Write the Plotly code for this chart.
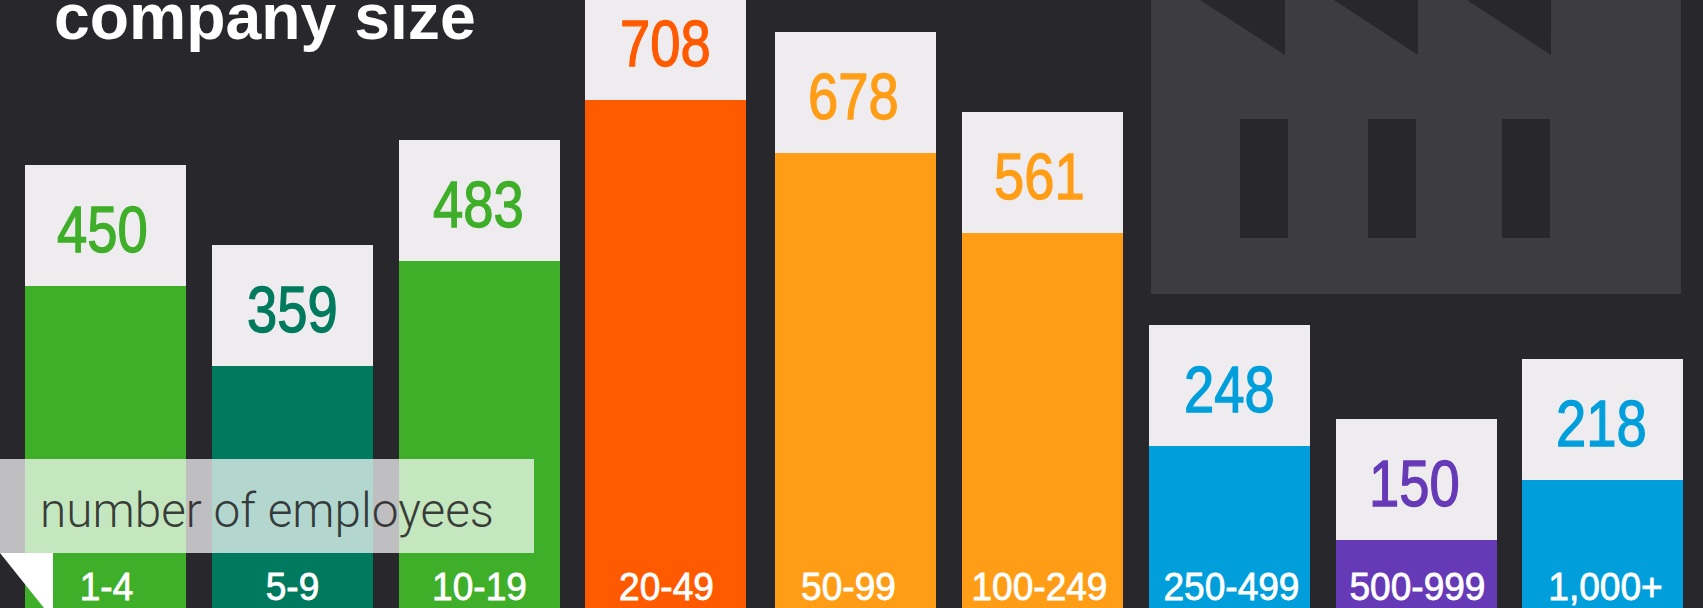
import plotly.graph_objects as go

categories = ["1-4", "5-9", "10-19", "20-49", "50-99", "100-249", "250-499", "500-999", "1,000+"]
value_labels = [450, 359, 483, 708, 678, 561, 248, 150, 218]
# drawn bar heights (the original is not strictly proportional to its labels)
bar_heights = [322, 242, 347, 508, 455, 375, 162, 68, 128]
cap_height = 121
bar_colors = ["#3fae29", "#007a5e", "#3fae29", "#ff5a00", "#ff9e16", "#ff9e16", "#009edb", "#6639b7", "#009edb"]
title_text = "company size"
axis_note = "number of employees"

BG = "#28272c"
CAP = "#eeecee"
FACTORY = "#3d3c41"
W, H = 1703, 608
BAR_W = 161
slots = [105.5, 292.5, 479.5, 665.5, 855.5, 1042.5, 1229.5, 1416.5, 1602.5]
value_shift = [-3, 0, -1, 0, -2, -3, 0, -2, -1]
cat_shift = [1, 0, 0, 1, -7, -3, 2, 1, 3]


def px(x):
    return x / W


def py(y):
    return 1 - y / H


def poly(points, fill, layer="below", opacity=1):
    path = "M " + " L ".join(f"{px(x):.5f},{py(y):.5f}" for x, y in points) + " Z"
    return dict(type="path", xref="paper", yref="paper", path=path, fillcolor=fill,
                line_width=0, layer=layer, opacity=opacity)


shapes = [
    poly([(1151, 0), (1681, 0), (1681, 294), (1151, 294)], FACTORY),
]
for a, b in [(1200, 1285), (1334, 1418), (1467, 1551)]:
    shapes.append(poly([(a, 0), (b, 0), (b, 55)], BG))
for a, b in [(1240, 1288), (1368, 1416), (1502, 1550)]:
    shapes.append(poly([(a, 119), (b, 119), (b, 238), (a, 238)], BG))
shapes.append(poly([(0, 459), (534, 459), (534, 553), (0, 553)], "#ffffff", layer="above", opacity=0.7))
shapes.append(poly([(0, 553), (53, 553), (53, 608), (44, 608)], "#ffffff", layer="above"))

fig = go.Figure()
fig.add_bar(x=slots, y=bar_heights, marker=dict(color=bar_colors, line_width=0),
            width=BAR_W, hoverinfo="skip")
fig.add_bar(x=slots, y=[cap_height] * len(categories), marker=dict(color=CAP, line_width=0),
            width=BAR_W, hoverinfo="skip")
fig.add_scatter(x=[s + d for s, d in zip(slots, value_shift)],
                y=[h + cap_height / 2 - 10 for h in bar_heights], mode="text",
                text=[str(v) for v in value_labels], textposition="middle center",
                textfont=dict(family="Liberation Sans", size=64, color=bar_colors),
                hoverinfo="skip")
fig.add_scatter(x=[s + d for s, d in zip(slots, cat_shift)], y=[18] * len(categories),
                mode="text", text=categories, textposition="middle center",
                textfont=dict(family="Liberation Sans", size=39, color="#ffffff"),
                hoverinfo="skip")

annotations = [
    dict(xref="paper", yref="paper", x=px(52), y=py(39), xanchor="left", yanchor="bottom",
         text=f"<b>{title_text}</b>", showarrow=False, yshift=-16,
         font=dict(family="Liberation Sans", size=64.3, color="#ffffff")),
    dict(xref="paper", yref="paper", x=px(38), y=py(511), xanchor="left", yanchor="middle",
         text=axis_note, showarrow=False,
         font=dict(family="Roboto", size=47.7, color="rgba(30,30,34,0.85)", weight=300)),
]

fig.update_layout(
    width=W, height=H, margin=dict(l=0, r=0, t=0, b=0), barmode="stack", showlegend=False,
    paper_bgcolor=BG, plot_bgcolor="rgba(0,0,0,0)", shapes=shapes, annotations=annotations,
    xaxis=dict(range=[0, W], visible=False),
    yaxis=dict(range=[0, H], visible=False),
)
condense = """
document.body.style.margin='0';document.body.style.overflow='hidden';
document.querySelectorAll('.textpoint text').forEach(function(t){
  var big = parseFloat(t.style.fontSize) > 50;
  t.setAttribute('lengthAdjust','spacingAndGlyphs');
  t.setAttribute('textLength', t.getComputedTextLength() * (big ? 0.85 : 0.95));
  t.style.stroke = t.style.fill;
  t.style.strokeWidth = big ? '1.3px' : '0.8px';
});
"""
fig.write_html("out.html", config={"displayModeBar": False}, post_script=condense)
